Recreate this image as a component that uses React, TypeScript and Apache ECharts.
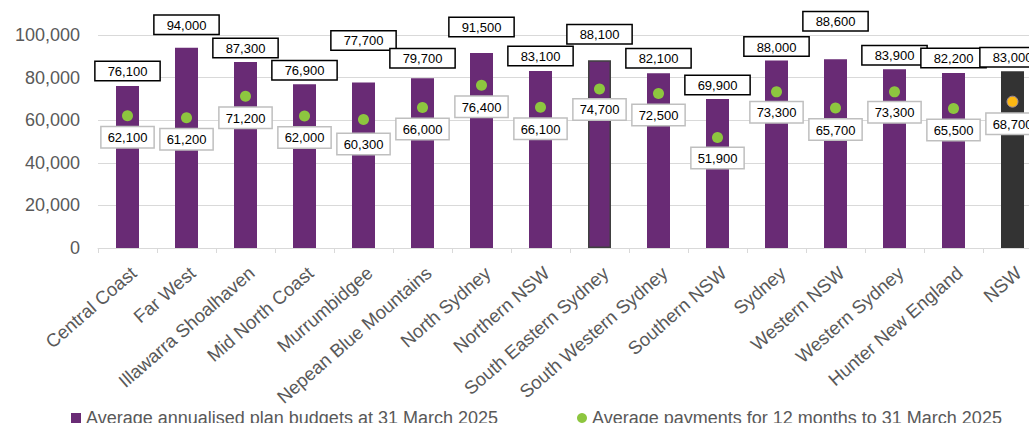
import React, { useEffect, useRef } from "react";
import * as echarts from "echarts";

const categories = [
  "Central Coast",
  "Far West",
  "Illawarra Shoalhaven",
  "Mid North Coast",
  "Murrumbidgee",
  "Nepean Blue Mountains",
  "North Sydney",
  "Northern NSW",
  "South Eastern Sydney",
  "South Western Sydney",
  "Southern NSW",
  "Sydney",
  "Western NSW",
  "Western Sydney",
  "Hunter New England",
  "NSW",
];
const budgets = [76100, 94000, 87300, 76900, 77700, 79700, 91500, 83100, 88100, 82100, 69900, 88000, 88600, 83900, 82200, 83000];
const payments = [62100, 61200, 71200, 62000, 60300, 66000, 76400, 66100, 74700, 72500, 51900, 73300, 65700, 73300, 65500, 68700];
const yTicks = { min: 0, max: 100000, interval: 20000 };

const budgetName = "Average annualised plan budgets at 31 March 2025";
const paymentName = "Average payments for 12 months to 31 March 2025";

// layout only: gap between bar top and its label box (labels were moved by hand in the original)
const budgetLabelGap = [6, 14, 5, 5, 33, 11, 17, 6, 17, 6, 5, 5, 29, 5, 6, 5];
const paymentLabelGap = [6, 6, 6, 6, 9, 6, 6, 6, 5, 6, 5, 5, 6, 5, 6, 6];

const PURPLE = "#692B75";
const TOTAL_BAR = "#333333";
const GREEN = "#8DC63F";
const ORANGE = "#FDB813";
const GREY_TEXT = "#595959";
const FONT = "'Liberation Sans', Arial, sans-serif";

const fmt = (v: number) => v.toLocaleString("en-US");

export default function App() {
  const ref = useRef<HTMLDivElement>(null);
  useEffect(() => {
    document.body.style.margin = "0";
    if (!ref.current) return;
    const chart = echarts.init(ref.current, undefined, { renderer: "svg" });
    const last = categories.length - 1;
    const barData = budgets.map((v, i) => {
      const item: any = {
        value: v,
        label: { distance: budgetLabelGap[i] },
      };
      if (i === last) item.itemStyle = { color: TOTAL_BAR };
      if (categories[i] === "South Eastern Sydney")
        item.itemStyle = { color: PURPLE, borderColor: "#404040", borderWidth: 1.5 };
      return item;
    });
    const dotData = payments.map((v, i) => {
      const item: any = { value: v, label: { distance: paymentLabelGap[i] } };
      if (i === last) item.itemStyle = { color: ORANGE, borderColor: "#9A8AA0", borderWidth: 1 };
      return item;
    });
    chart.setOption({
      animation: false,
      textStyle: { fontFamily: FONT },
      grid: {
        left: 98,
        top: 35,
        width: 944,
        height: 213,
        containLabel: false,
        outerBoundsMode: "none",
      },
      legend: [
        {
          data: [{ name: budgetName, icon: "rect" }],
          left: 66,
          top: 404,
          itemWidth: 10,
          itemHeight: 10,
          textStyle: { color: GREY_TEXT, fontSize: 18, fontFamily: FONT },
        },
        {
          data: [{ name: paymentName, icon: "circle" }],
          left: 572,
          top: 404,
          itemWidth: 10,
          itemHeight: 10,
          textStyle: { color: GREY_TEXT, fontSize: 18, fontFamily: FONT },
        },
      ],
      xAxis: {
        type: "category",
        data: categories,
        boundaryGap: true,
        axisLine: { lineStyle: { color: "#D9D9D9", width: 1 } },
        axisTick: { show: true, length: 5, lineStyle: { color: "#D9D9D9" } },
        axisLabel: {
          interval: 0,
          rotate: 41,
          align: "right",
          verticalAlign: "top",
          margin: 15,
          color: GREY_TEXT,
          fontSize: 18.5,
          fontFamily: FONT,
        },
      },
      yAxis: {
        type: "value",
        min: yTicks.min,
        max: yTicks.max,
        interval: yTicks.interval,
        axisLine: { show: false },
        axisTick: { show: false },
        splitLine: { lineStyle: { color: "#D9D9D9", width: 1 } },
        axisLabel: {
          color: GREY_TEXT,
          fontSize: 18,
          fontFamily: FONT,
          margin: 18,
          formatter: (v: number) => fmt(v),
        },
      },
      series: [
        {
          name: budgetName,
          type: "bar",
          data: barData,
          barWidth: 23,
          itemStyle: { color: PURPLE },
          z: 2,
          label: {
            show: true,
            position: "top",
            formatter: (p: any) => fmt(p.value),
            color: "#000",
            fontSize: 13,
            fontFamily: FONT,
            backgroundColor: "#fff",
            borderColor: "#000",
            borderWidth: 1.5,
            padding: [3, 12, 2, 12],
          },
        },
        {
          name: paymentName,
          type: "scatter",
          data: dotData,
          symbol: "circle",
          symbolSize: 11,
          itemStyle: { color: GREEN, opacity: 1 },
          z: 4,
          label: {
            show: true,
            position: "bottom",
            formatter: (p: any) => fmt(p.value),
            color: "#000",
            fontSize: 13,
            fontFamily: FONT,
            backgroundColor: "#fff",
            borderColor: "#BFBFBF",
            borderWidth: 1.5,
            padding: [4, 6, 3, 6],
          },
        },
      ],
    });
    return () => chart.dispose();
  }, []);
  return (
    <div style={{ width: 1029, height: 423, overflow: "hidden" }}>
      <div ref={ref} style={{ width: 1046, height: 423 }} />
    </div>
  );
}
